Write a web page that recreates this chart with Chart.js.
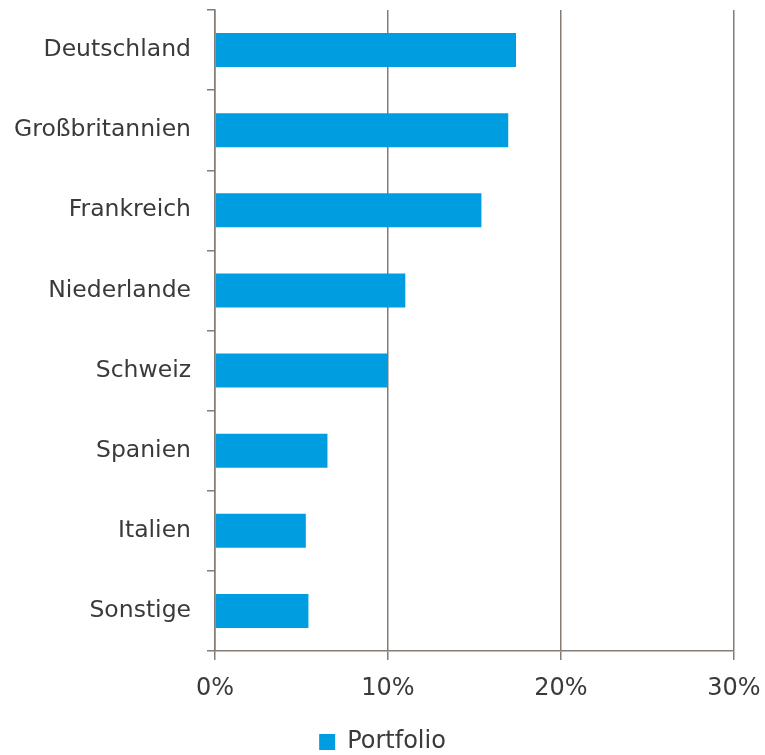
<!DOCTYPE html>
<html>
<head>
<meta charset="utf-8">
<script src="https://cdn.jsdelivr.net/npm/chart.js@4/dist/chart.umd.min.js"></script>
<style>
  html, body { margin: 0; padding: 0; background: #fff; }
  #wrap { width: 765px; height: 755px; }
</style>
</head>
<body>
<div id="wrap"><canvas id="countryChart"></canvas></div>
<script>
const categories = ['Deutschland', 'Großbritannien', 'Frankreich', 'Niederlande', 'Schweiz', 'Spanien', 'Italien', 'Sonstige'];
const portfolio = [17.4, 16.95, 15.4, 11.0, 10.0, 6.5, 5.25, 5.4];
const xTickValues = [0, 10, 20, 30];

const axisColor = '#857b72';
const textColor = '#3a3a3a';
const barColor = '#009ee0';

const countryChart = new Chart(
    document.getElementById('countryChart'), {
    type: 'bar',
    data: {
        labels: categories,
        datasets: [{
            label: 'Portfolio',
            data: portfolio,
            backgroundColor: barColor,
            borderWidth: 0,
            barPercentage: 0.425,
            categoryPercentage: 1
        }]
    },
    options: {
        indexAxis: 'y',
        responsive: true,
        maintainAspectRatio: false,
        animation: false,
        layout: {
            padding: { top: 10, right: 0, left: 0, bottom: -9 }
        },
        scales: {
            x: {
                min: xTickValues[0],
                max: xTickValues[xTickValues.length - 1],
                afterBuildTicks: (scale) => {
                    scale.ticks = xTickValues.map(v => ({ value: v }));
                },
                afterFit: (scale) => {
                    scale.height = 77;
                    scale.paddingRight = 31;
                    scale.paddingLeft = 0;
                },
                ticks: {
                    callback: (v) => v + '%',
                    color: textColor,
                    padding: 14,
                    maxRotation: 0,
                    font: { family: 'DejaVu Sans', size: 24 }
                },
                grid: {
                    color: axisColor,
                    lineWidth: 1.5,
                    tickLength: 9
                },
                border: { color: axisColor, width: 1.5 }
            },
            y: {
                afterFit: (scale) => {
                    scale.width = 215;
                    scale.paddingTop = 0;
                    scale.paddingBottom = 0;
                },
                ticks: {
                    color: textColor,
                    padding: 16,
                    font: { family: 'DejaVu Sans', size: 23.5 }
                },
                grid: {
                    offset: true,
                    drawOnChartArea: false,
                    color: axisColor,
                    lineWidth: 1.5,
                    tickLength: 8
                },
                border: { color: axisColor, width: 1.5 }
            }
        },
        plugins: {
            legend: {
                position: 'bottom',
                labels: {
                    color: textColor,
                    boxWidth: 16,
                    boxHeight: 16,
                    padding: 2,
                    font: { family: 'DejaVu Sans', size: 24 }
                }
            },
            tooltip: { enabled: false }
        }
    }
}
);
</script>
</body>
</html>
